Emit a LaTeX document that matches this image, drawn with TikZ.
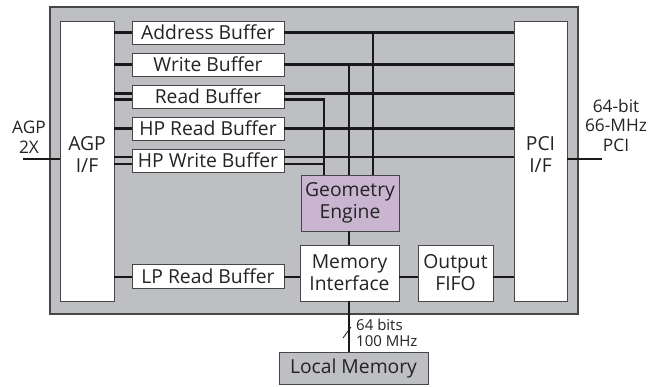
\documentclass[tikz,border=0pt]{standalone}
\usepackage{fontspec}
\setmainfont{Open Sans}
\usetikzlibrary{calc}
\definecolor{chipgray}{RGB}{190,191,195}
\definecolor{geopurple}{RGB}{201,181,208}
\definecolor{edgecol}{RGB}{70,70,70}
\definecolor{wire}{RGB}{25,25,25}
\definecolor{txt}{RGB}{35,35,35}
\newcommand\fsMain{\fontsize{19.3}{22}\selectfont}
\newcommand\fsSide{\fontsize{17.3}{19.5}\selectfont}
\newcommand\fsSmall{\fontsize{15}{16}\selectfont}
\begin{document}
\begin{tikzpicture}[x=1pt,y=-1pt,
  blk/.style={draw=edgecol, line width=0.9pt, fill=white, inner sep=0pt, align=center, font=\fsMain, text=txt},
  bus/.style={line width=2.8pt, draw=wire},
  lbl/.style={inner sep=0pt, align=center, font=\fsSide, text=txt},
  buf/.style={blk, minimum width=152pt, minimum height=23pt},
  tall/.style={blk, minimum width=54pt, minimum height=280pt},
  ]
\useasboundingbox (0,0) rectangle (658,386);
% chip outline
\node[draw=edgecol, line width=1.3pt, fill=chipgray, minimum width=528pt, minimum height=307pt, inner sep=0pt] (chip) at (314,160.5) {};
% interfaces
\node[tall, label={[font=\fsMain, align=center, text=txt, yshift=6.5pt]center:AGP\\I/F}] (agp) at (87,161) {};
\node[tall, minimum width=53pt, label={[font=\fsMain, align=center, text=txt, yshift=6.5pt]center:PCI\\I/F}] (pci) at (540.5,161) {};
% buffers
\node[buf] (addr) at (208,32.5) {Address Buffer};
\node[buf] (write) at (208,64.5) {Write Buffer};
\node[buf] (read) at (208,96.5) {Read Buffer};
\node[buf] (hpread) at (208,128.5) {HP Read Buffer};
\node[buf] (hpwrite) at (208,160.5) {HP Write Buffer};
\node[buf, minimum height=24pt] (lpread) at (208,276) {LP Read Buffer};
% engines
\node[blk, fill=geopurple, minimum width=98pt, minimum height=56pt] (geom) at (350,203) {Geometry\\Engine};
\node[blk, minimum width=99pt, minimum height=56pt] (mem) at (349.5,273) {Memory\\Interface};
\node[blk, minimum width=75pt, minimum height=56pt] (fifo) at (455.5,273) {Output\\FIFO};
\node[blk, fill=chipgray, minimum width=149pt, minimum height=32pt] (local) at (353.5,368) {Local Memory};
% side labels
\node[lbl] (agplbl) at (29,137) {AGP\\2X};
\node[lbl] (pcilbl) at (616,125.5) {64-bit\\66-MHz\\PCI};
\node[lbl, font=\fsSmall, align=left, anchor=west] (buslbl) at (356,333) {64 bits\\100 MHz};
% helper coordinates
\coordinate (xr) at (324,0);
\coordinate (xw) at (349,0);
\coordinate (xa) at (373,0);
\coordinate (agpin) at (23,159);
\coordinate (pciout) at (602,159);
\coordinate (ymem) at (0,277);
\coordinate (rdLa) at ([yshift=2.8pt]read.west);
\coordinate (rdLb) at ([yshift=-3.2pt]read.west);
\coordinate (rdRa) at ([yshift=2.8pt]read.east);
\coordinate (rdRb) at ([yshift=-3.2pt]read.east);
\coordinate (hwLa) at ([yshift=3.5pt]hpwrite.west);
\coordinate (hwLb) at ([yshift=-3.5pt]hpwrite.west);
\coordinate (hwRa) at ([yshift=3.5pt]hpwrite.east);
\coordinate (hwRb) at ([yshift=-3.5pt]hpwrite.east);
% AGP side wires
\draw[bus] (agpin) -- (agpin -| agp.west);
\draw[bus] (agp.east |- addr.west) -- (addr.west);
\draw[bus] (agp.east |- write.west) -- (write.west);
\draw[bus] (agp.east |- rdLa) -- (rdLa);
\draw[bus] (agp.east |- rdLb) -- (rdLb);
\draw[bus] (agp.east |- hpread.west) -- (hpread.west);
\draw[bus] (agp.east |- hwLa) -- (hwLa);
\draw[bus] (agp.east |- hwLb) -- (hwLb);
\draw[bus] (agp.east |- ymem) -- (lpread.west |- ymem);
% PCI side wires
\draw[bus] (addr.east) -- (pci.west |- addr.east);
\draw[bus] (write.east) -- (pci.west |- write.east);
\draw[bus] (rdRa) -- (pci.west |- rdRa);
\draw[bus] (hpread.east) -- (pci.west |- hpread.east);
\draw[bus] (hwRa) -- (pci.west |- hwRa);
\draw[bus] (pci.east |- pciout) -- (pciout);
% feeds into geometry engine
\draw[bus] (rdRb) -| (geom.north -| xr);
\draw[bus] (hwRb) -- (hwRb -| xr);
\draw[bus] (write.east -| xw) -- (geom.north -| xw);
\draw[bus] (addr.east -| xa) -- (geom.north -| xa);
% lower section
\draw[bus] (geom.south -| xw) -- (mem.north -| xw);
\draw[bus] (lpread.east |- ymem) -- (mem.west |- ymem);
\draw[bus] (mem.east |- ymem) -- (fifo.west |- ymem);
\draw[bus] (fifo.east |- ymem) -- (pci.west |- ymem);
\draw[bus] (mem.south -| xw) -- (local.north -| xw);
\draw[line width=0.8pt, draw=wire] (343,338) -- (351,327);
\end{tikzpicture}
\end{document}
